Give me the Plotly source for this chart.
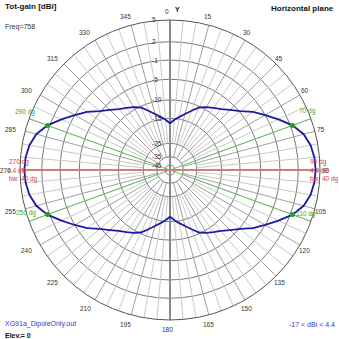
import numpy as np
import plotly.graph_objects as go

# Ring levels (dBi) and their relative radius on the compressed log scale
ring_db = [5, 2, -1, -5, -10, -15, -25, -35, -45]
ring_r = [1.0, 0.855, 0.733, 0.605, 0.467, 0.345, 0.178, 0.089, 0.033]
ring_labels = ["5", "2", "-1", "-5", "-10", "-15", "-25", "-35", "-45"]

# Azimuth (deg) and total gain (dBi) in the horizontal plane
azimuth = list(range(0, 360, 5))
gain_dbi = [
    -17.0, -15.5, -14.4, -13.3, -11.9, -10.3, -9.4, -8.6, -7.7, -6.4,
    -4.8, -2.8, -1.0, 0.6, 2.3, 3.4, 4.0, 4.3, 4.4, 4.3,
    4.0, 3.4, 2.3, 0.6, -1.0, -2.8, -4.8, -6.4, -7.7, -8.6,
    -9.4, -10.3, -11.9, -13.3, -14.4, -15.5, -17.0, -15.5, -14.4, -13.3,
    -11.9, -10.3, -9.4, -8.6, -7.7, -6.4, -4.8, -2.8, -1.0, 0.6,
    2.3, 3.4, 4.0, 4.3, 4.4, 4.3, 4.0, 3.4, 2.3, 0.6,
    -1.0, -2.8, -4.8, -6.4, -7.7, -8.6, -9.4, -10.3, -11.9, -13.3,
    -14.4, -15.5,
]

max_dir = [90, 270]
max_gain = 4.4
half_power_dirs = [70, 110, 250, 290]
angle_labels = list(range(0, 360, 15))

W = H = 339
CX, CY, R = 170, 170, 150


def to_r(db):
    return np.interp(db, ring_db[::-1], ring_r[::-1], left=0.0)


def gain_at(a):
    return gain_dbi[azimuth.index(a % 360)]


def px(x, y):
    return x / W, 1 - y / H


fig = go.Figure()

# spokes: every 15 deg from the -35 ring, every 5 deg from the -25 ring
sp_r, sp_t, sp15_r, sp15_t = [], [], [], []
for a in range(0, 360, 5):
    if a % 15 == 0:
        sp15_r += [ring_r[7], 1, None]
        sp15_t += [a, a, None]
    else:
        sp_r += [ring_r[6], 1, None]
        sp_t += [a, a, None]
fig.add_trace(go.Scatterpolar(r=sp_r, theta=sp_t, mode="lines",
                              line=dict(color="#c8c8c8", width=1), hoverinfo="skip"))
fig.add_trace(go.Scatterpolar(r=sp15_r, theta=sp15_t, mode="lines",
                              line=dict(color="#a0a0a0", width=1), hoverinfo="skip"))

# vertical axis line 0-180
fig.add_trace(go.Scatterpolar(r=[1, 0, 1], theta=[0, 0, 180], mode="lines",
                              line=dict(color="#8a8a8a", width=2), hoverinfo="skip"))

# half-power direction lines
for a in (70, 110):
    fig.add_trace(go.Scatterpolar(r=[1.02, 0, 1.02], theta=[a, a, a + 180], mode="lines",
                                  line=dict(color="#66bb66", width=1), cliponaxis=False,
                                  hoverinfo="skip"))

# maximum gain direction line
rmax = float(to_r(max_gain))
fig.add_trace(go.Scatterpolar(r=[rmax, 0, rmax], theta=[max_dir[0], max_dir[0], max_dir[1]],
                              mode="lines", line=dict(color="#c88080", width=2),
                              hoverinfo="skip"))

# pattern
th = azimuth + [azimuth[0]]
gv = gain_dbi + [gain_dbi[0]]
fig.add_trace(go.Scatterpolar(r=to_r(np.array(gv)), theta=th, mode="lines",
                              line=dict(color="#1c1ca0", width=1.8), hoverinfo="skip"))

# half-power points
fig.add_trace(go.Scatterpolar(r=[float(to_r(gain_at(a))) for a in half_power_dirs],
                              theta=half_power_dirs, mode="markers",
                              marker=dict(color="#22a022", size=5), hoverinfo="skip"))

fig.update_layout(
    width=W, height=H, margin=dict(l=0, r=0, t=0, b=0),
    paper_bgcolor="white", showlegend=False,
    font=dict(family="Liberation Sans, Arial, sans-serif", size=7, color="#222"),
    polar=dict(
        domain=dict(x=[(CX - R) / W, (CX + R) / W], y=[1 - (CY + R) / H, 1 - (CY - R) / H]),
        bgcolor="white",
        angularaxis=dict(rotation=90, direction="clockwise", showgrid=False,
                         showticklabels=False, ticks="", linecolor="#555", linewidth=1),
        radialaxis=dict(range=[0, 1], tickvals=ring_r[1:], showgrid=True,
                        gridcolor="#7a7a7a", gridwidth=1, showticklabels=False,
                        showline=False, ticks=""),
    ),
)

ann = []


def text(x, y, s, size=7, color="#222", bold=False, xanchor="center"):
    xx, yy = px(x, y)
    ann.append(dict(x=xx, y=yy, xref="paper", yref="paper", text=f"<b>{s}</b>" if bold else s,
                    showarrow=False, xanchor=xanchor, yanchor="middle",
                    font=dict(size=size, color=color)))


# angle labels round the outer ring
for a in angle_labels:
    t = np.radians(a)
    dx = -3 - (2.5 if np.sin(t) < -0.5 else 0)
    text(CX + dx + 159 * np.sin(t), CY + 0.5 - 159 * np.cos(t), str(a), size=6.5, color="#333")

# ring labels on the vertical axis
for lab, rr in zip(ring_labels, ring_r):
    text(150, CY - rr * R, lab, size=6.5, color="#333", xanchor="left")

# direction labels
green = "#33aa33"
text(307, 111, "70 dg", 6.5, green)
text(306, 214, "110 dg", 6.5, green)
text(26, 213, "250 dg", 6.5, green)
text(25, 112, "290 dg", 6.5, green)
red = "#d04545"
text(308, 162, f"{max_dir[0]} dg", 6.5, red, xanchor="left")
text(308, 170, f"{max_gain} dB", 6.5, red, xanchor="left")
text(308, 179, "bw: 40 dg", 6.5, red, xanchor="left")
text(7, 162, f"{max_dir[1]} dg", 6.5, red, xanchor="left")
text(5, 170, f"{max_gain} dB", 6.5, red, xanchor="left")
text(7, 179, "bw: 40 dg", 6.5, red, xanchor="left")

# titles and info
text(3, 7, "Tot-gain [dBi]", 8, "#111", bold=True, xanchor="left")
text(3, 27, "Freq=758", 7, "#333", xanchor="left")
text(173, 9, "Y", 7, "#111", bold=True, xanchor="left")
text(336, 8, "Horizontal plane", 8, "#111", bold=True, xanchor="right")
text(3, 324, "XG91a_DipoleOnly.out", 7, "#3535c8", xanchor="left")
text(3, 335, "Elev.= 0", 7, "#111", bold=True, xanchor="left")
text(337, 324, f"{min(gain_dbi):g} &lt; dBi &lt; {max_gain}", 7, "#3535c8", xanchor="right")

fig.update_layout(annotations=ann)
fig.write_html("out.html")
